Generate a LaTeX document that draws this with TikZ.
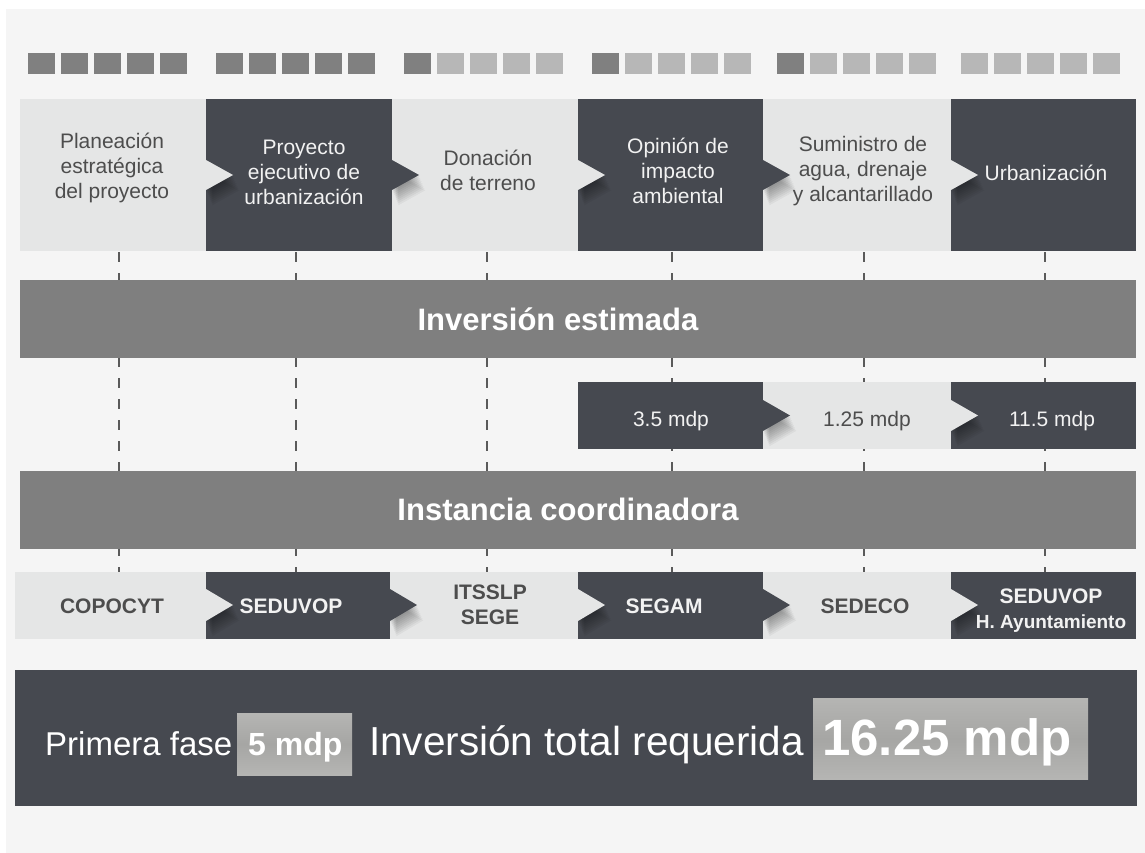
\documentclass[tikz,border=0pt]{standalone}
\usepackage{fontspec}
\setmainfont{Liberation Sans}

\definecolor{pagebg}{HTML}{F5F5F5}
\definecolor{boxlight}{HTML}{E5E6E6}
\definecolor{boxdark}{HTML}{464950}
\definecolor{barcol}{HTML}{7F7F7F}
\definecolor{sqdark}{HTML}{808080}
\definecolor{sqlight}{HTML}{B7B7B7}
\definecolor{txtdark}{HTML}{4D4D4D}
\definecolor{txtlight}{HTML}{F2F2F2}
\definecolor{hilite}{HTML}{B5B5B3}
\definecolor{hiliteshade}{HTML}{A6A6A4}
\definecolor{guide}{HTML}{5A5A5A}

\tikzset{
  steptxt/.style={align=center, inner sep=0pt, font=\fontsize{21}{25}\selectfont},
  amounttxt/.style={inner sep=0pt, font=\fontsize{21}{25}\selectfont},
  agencytxt/.style={align=center, inner sep=0pt, font=\fontsize{21}{25}\selectfont\bfseries},
  bartxt/.style={inner sep=0pt, text=white, font=\fontsize{31}{37}\selectfont\bfseries},
  ondark/.style={text=txtlight},
  onlight/.style={text=txtdark},
  guideline/.style={draw=guide, line width=1.1pt, dash pattern=on 10pt off 11pt},
  shadowlayer/.style={fill=black, opacity=0.045},
  totaltxt/.style={anchor=base west, inner sep=0pt, text=white}
}

% chevron pointing into the next box: #1 colour, #2 base x, #3 centre y, #4 half height
\newcommand\stagechevron[4]{%
  \begin{scope}
    \clip (#2,#3-40) rectangle (#2+80,#3+#4+30);
    \foreach \k in {1,...,9}{
      \fill[shadowlayer, shift={(\k*0.7,\k*1.7)}]
        (#2,#3-#4) -- (#2+27,#3) -- (#2,#3+#4) -- cycle;
    }
    \fill[#1] (#2,#3-#4) -- (#2+27,#3) -- (#2,#3+#4) -- cycle;
  \end{scope}}

\begin{document}
\begin{tikzpicture}[x=1pt, y=-1pt]
  \useasboundingbox (0,0) rectangle (1145,853);
  \fill[white] (0,0) rectangle (1145,853);
  \fill[pagebg] (6,9) rectangle (1145,853);

  % progress squares above the stages
  \foreach \gx/\nd in {28/5,216/5,404/1,592/1,777/1,961/0} {
    \foreach \k in {0,...,4} {
      \pgfmathsetmacro\sx{\gx+33*\k}
      \ifnum\k<\nd
        \fill[sqdark] (\sx,53) rectangle ++(27,21);
      \else
        \fill[sqlight] (\sx,53) rectangle ++(27,21);
      \fi
    }
  }

  % vertical guides running through every column
  \foreach \gx [count=\i] in {119,296,487,672,864,1045} {
    \coordinate (g\i top) at (\gx,252);
    \coordinate (g\i bot) at (\gx,572);
    \draw[guideline] (g\i top) -- (g\i bot);
  }

  % stage boxes
  \foreach \xa/\xb/\c in {20/206/boxlight,206/392/boxdark,392/578/boxlight,578/763/boxdark,763/951/boxlight,951/1136/boxdark}
    \fill[\c] (\xa,99) rectangle (\xb,251);
  \begin{scope}
    \clip (20,99) rectangle (1136,251);
    \foreach \xb/\c in {206/boxlight,392/boxdark,578/boxlight,763/boxdark,951/boxlight}{
      \stagechevron{\c}{\xb}{175}{15}
    }
  \end{scope}
  \node[steptxt,onlight] (s1) at (112,168) {Planeación\\estratégica\\del proyecto};
  \node[steptxt,ondark]  (s2) at (304,172) {Proyecto\\ejecutivo de\\urbanización};
  \node[steptxt,onlight] (s3) at (488,170) {Donación\\de terreno};
  \node[steptxt,ondark]  (s4) at (678,171) {Opinión de\\impacto\\ambiental};
  \node[steptxt,onlight] (s5) at (863,171) {Suministro de\\agua, drenaje\\y alcantarillado};
  \node[steptxt,ondark]  (s6) at (1046,173) {Urbanización};

  % estimated investment band
  \fill[barcol] (20,280) rectangle (1136,358);
  \node[bartxt] (inv) at (558,319) {Inversión estimada};

  % amounts per stage
  \foreach \xa/\xb/\c in {578/763/boxdark,763/951/boxlight,951/1136/boxdark}
    \fill[\c] (\xa,382) rectangle (\xb,449);
  \begin{scope}
    \clip (578,382) rectangle (1136,449);
    \foreach \xb/\c in {763/boxdark,951/boxlight}{
      \stagechevron{\c}{\xb}{415.5}{15.5}
    }
  \end{scope}
  \node[amounttxt,ondark]  (m1) at (671,421) {3.5 mdp};
  \node[amounttxt,onlight] (m2) at (867,421) {1.25 mdp};
  \node[amounttxt,ondark]  (m3) at (1052,421) {11.5 mdp};

  % coordinating body band
  \fill[barcol] (20,471) rectangle (1136,549);
  \node[bartxt] (coord) at (568,509) {Instancia coordinadora};

  % coordinating agencies
  \foreach \xa/\xb/\c in {15/206/boxlight,206/390/boxdark,390/578/boxlight,578/763/boxdark,763/951/boxlight,951/1136/boxdark}
    \fill[\c] (\xa,572) rectangle (\xb,639);
  \begin{scope}
    \clip (15,572) rectangle (1136,639);
    \foreach \xb/\c in {206/boxlight,390/boxdark,578/boxlight,763/boxdark,951/boxlight}{
      \stagechevron{\c}{\xb}{605}{16}
    }
  \end{scope}
  \node[agencytxt,onlight] (a1) at (112,606) {COPOCYT};
  \node[agencytxt,ondark]  (a2) at (291,606) {SEDUVOP};
  \node[agencytxt,onlight] (a3) at (490,605) {ITSSLP\\SEGE};
  \node[agencytxt,ondark]  (a4) at (664,606) {SEGAM};
  \node[agencytxt,onlight] (a5) at (865,606) {SEDECO};
  \node[agencytxt,ondark]  (a6) at (1051,611) {SEDUVOP\\{\fontsize{19}{21}\selectfont H. Ayuntamiento}};

  % total investment panel
  \fill[boxdark] (15,670) rectangle (1137,806);
  \shade[top color=hilite, bottom color=hilite, middle color=hiliteshade]
    (237,713) rectangle (352,775);
  \shade[top color=hilite, bottom color=hilite, middle color=hiliteshade]
    (813,698) rectangle (1088,779);
  \node[totaltxt, font=\fontsize{33}{40}\selectfont] (fase) at (45,755) {Primera fase};
  \node[totaltxt, font=\fontsize{32}{38}\selectfont\bfseries] (fasemonto) at (248,755) {5 mdp};
  \node[totaltxt, font=\fontsize{40.5}{48}\selectfont] (req) at (369,755) {Inversión total requerida};
  \node[totaltxt, font=\fontsize{51}{60}\selectfont\bfseries] (total) at (822,755) {16.25 mdp};
\end{tikzpicture}
\end{document}
